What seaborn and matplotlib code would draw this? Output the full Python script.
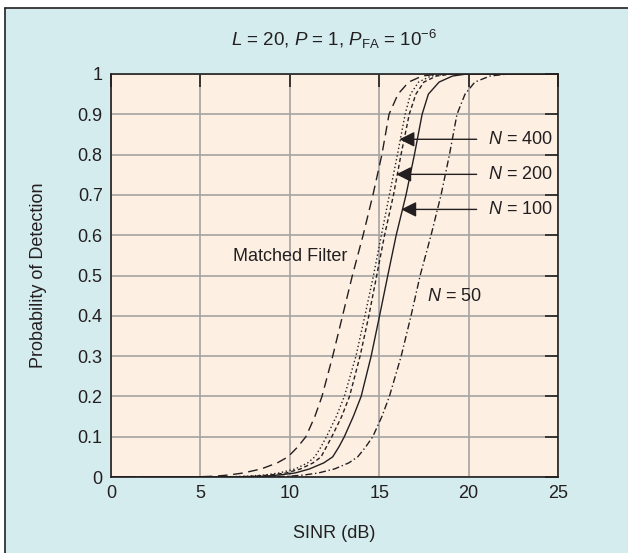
import seaborn as sns
import matplotlib.pyplot as plt
import pandas as pd
from matplotlib.patches import Rectangle
from matplotlib.lines import Line2D

# probability of detection levels
pd_levels = [0.0, 0.0, 0.002, 0.005, 0.01, 0.02, 0.035, 0.05, 0.075, 0.1, 0.15, 0.2,
             0.3, 0.4, 0.5, 0.6, 0.7, 0.8, 0.9, 0.95, 0.98, 0.995, 1.0, 1.0]

# SINR (dB) where each curve reaches the levels above
sinr_mf = [0, 4.5, 5.8, 6.6, 7.4, 8.4, 9.3, 9.9, 10.45, 10.9, 11.4, 11.8,
           12.4, 12.95, 13.5, 14.1, 14.65, 15.15, 15.55, 16.05, 16.65, 17.4, 18.3, 25]
sinr_n400 = [0, 6.0, 7.6, 8.6, 9.4, 10.3, 11.0, 11.4, 11.75, 12.05, 12.6, 13.05,
             13.7, 14.2, 14.68, 15.12, 15.57, 16.02, 16.45, 16.75, 17.2, 17.9, 18.8, 25]
sinr_n200 = [0, 6.5, 8.0, 8.9, 9.8, 10.6, 11.3, 11.75, 12.05, 12.35, 12.9, 13.34,
             13.93, 14.42, 14.86, 15.3, 15.8, 16.22, 16.68, 17.05, 17.5, 18.2, 19.1, 25]
sinr_n100 = [0, 7.0, 8.6, 9.4, 10.3, 11.1, 11.9, 12.4, 12.75, 13.05, 13.55, 13.99,
             14.55, 15.02, 15.48, 15.95, 16.5, 16.97, 17.4, 17.75, 18.35, 19.1, 19.9, 25]
sinr_n50 = [0, 8.5, 10.0, 10.8, 11.6, 12.5, 13.3, 13.8, 14.25, 14.64, 15.15, 15.57,
            16.23, 16.78, 17.29, 17.9, 18.46, 18.93, 19.35, 19.8, 20.35, 21.2, 22.2, 25]

x_ticks = [0, 5, 10, 15, 20, 25]
y_ticks = [0, 0.1, 0.2, 0.3, 0.4, 0.5, 0.6, 0.7, 0.8, 0.9, 1]
y_tick_labels = ['0', '0.1', '0.2', '0.3', '0.4', '0.5', '0.6', '0.7', '0.8', '0.9', '1']

sns.set_style('white')
plt.rcParams['font.family'] = ['Liberation Sans', 'DejaVu Sans']
plt.rcParams['mathtext.fontset'] = 'custom'
plt.rcParams['mathtext.rm'] = 'Liberation Sans'
plt.rcParams['mathtext.it'] = 'Liberation Sans:italic'

ink = '#231f20'
bg_blue = '#d5ecee'
bg_peach = '#fdf0e3'

fig = plt.figure(figsize=(6.28, 5.53), dpi=100, facecolor='white')
fig.patches.append(Rectangle((5 / 628, 0), 1, 1 - 8 / 553, transform=fig.transFigure,
                             facecolor=bg_blue, edgecolor='none', zorder=-5))
fig.lines.append(Line2D([5 / 628, 5 / 628], [0, 1 - 8 / 553], transform=fig.transFigure,
                        color=ink, lw=1.2, zorder=-4))
fig.lines.append(Line2D([5 / 628, 1], [1 - 8 / 553, 1 - 8 / 553], transform=fig.transFigure,
                        color=ink, lw=1.2, zorder=-4))

ax = fig.add_axes([111 / 628, 1 - 477 / 553, 447 / 628, 403 / 553])
ax.set_facecolor(bg_peach)

curves = [
    (sinr_mf, (0, (7, 4))),
    (sinr_n400, (0, (1, 1.8))),
    (sinr_n200, (0, (3, 2))),
    (sinr_n100, '-'),
    (sinr_n50, (0, (5, 2, 1, 2))),
]
for xs, ls in curves:
    df = pd.DataFrame({'sinr': xs, 'pd': pd_levels})
    sns.lineplot(data=df, x='sinr', y='pd', ax=ax, color=ink, lw=1.0,
                 linestyle=ls, estimator=None, sort=False, zorder=3)

ax.set_xlim(0, 25)
ax.set_ylim(0, 1)
ax.set_xticks(x_ticks)
ax.set_yticks(y_ticks)
ax.set_yticklabels(y_tick_labels)
ax.grid(True, color='#a3a3a3', lw=1.2, zorder=1)
ax.set_axisbelow(True)
ax.tick_params(direction='in', length=9.5, width=1.2, color=ink, labelcolor=ink,
               labelsize=13, top=True, right=True, pad=6)
for s in ax.spines.values():
    s.set_color(ink)
    s.set_linewidth(1.2)

ax.set_xlabel('SINR (dB)', fontsize=13, color=ink, labelpad=16)
ax.set_ylabel('Probability of Detection', fontsize=13, color=ink, labelpad=22)

fig.text(0.5326, 1 - 39 / 553, r'$L$ = 20, $P$ = 1, $P_{\mathrm{FA}}$ = 10$^{-6}$',
         ha='center', va='center', fontsize=13.5, color=ink)

ax.text(13.23, 0.548, 'Matched Filter', ha='right', va='center', fontsize=13, color=ink)
ax.text(17.65, 0.447, r'$N$ = 50', ha='left', va='center', fontsize=13, color=ink)

labels = [('400', 0.838, 16.13), ('200', 0.751, 15.95), ('100', 0.664, 16.23)]
for n, y, tip in labels:
    ax.annotate('', xy=(tip, y), xytext=(20.45, y),
                arrowprops=dict(arrowstyle='-|>', color=ink, lw=1.0,
                                mutation_scale=23, shrinkA=0, shrinkB=0), zorder=4)
    ax.text(21.06, y, r'$N$ = ' + n, ha='left', va='center', fontsize=13, color=ink)

fig.savefig('out.png', dpi=100, facecolor=fig.get_facecolor())
